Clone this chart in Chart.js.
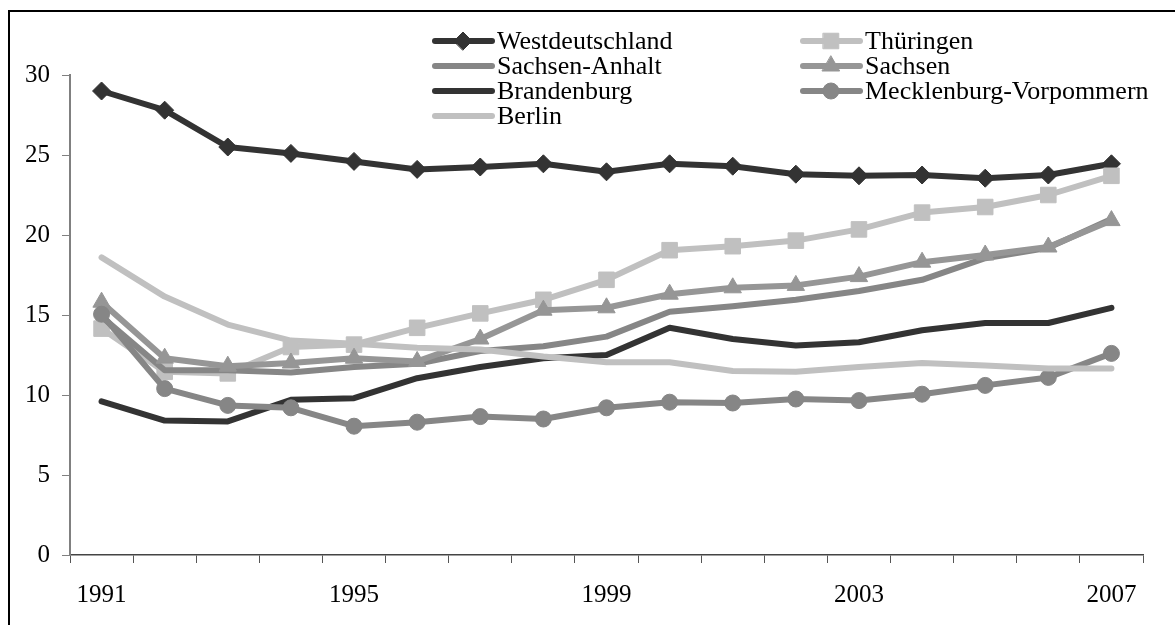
<!DOCTYPE html>
<html lang="de">
<head>
  <meta charset="UTF-8">
  <title>Entwicklung 1991-2007</title>
  <script src="https://cdn.jsdelivr.net/npm/chart.js"></script>
  <style>
    body { margin: 0; background: #fff; }
    #wrap { width: 1175px; height: 625px; position: relative; }
  </style>
</head>
<body>
  <div id="wrap">
    <canvas id="chart" width="1175" height="625"></canvas>
  </div>

  <script>
    // data
    const years = ['1991', '1992', '1993', '1994', '1995', '1996', '1997', '1998', '1999',
                   '2000', '2001', '2002', '2003', '2004', '2005', '2006', '2007'];
    const yTicks = [0, 5, 10, 15, 20, 25, 30];

    const westdeutschland = [29.0, 27.8, 25.5, 25.1, 24.6, 24.1, 24.25, 24.45, 23.95, 24.45, 24.3, 23.8, 23.7, 23.75, 23.55, 23.75, 24.45];
    const thueringen      = [14.15, 11.45, 11.35, 13.0, 13.15, 14.2, 15.1, 15.95, 17.2, 19.05, 19.3, 19.65, 20.35, 21.4, 21.75, 22.5, 23.7];
    const sachsenAnhalt   = [14.9, 11.55, 11.55, 11.4, 11.75, 11.95, 12.75, 13.05, 13.65, 15.2, 15.55, 15.95, 16.5, 17.2, 18.55, 19.2, 21.0];
    const sachsen         = [15.8, 12.3, 11.8, 12.0, 12.3, 12.1, 13.5, 15.3, 15.45, 16.3, 16.7, 16.85, 17.4, 18.3, 18.75, 19.25, 20.9];
    const brandenburg     = [9.6, 8.4, 8.35, 9.7, 9.8, 11.05, 11.75, 12.3, 12.5, 14.2, 13.5, 13.1, 13.3, 14.05, 14.5, 14.5, 15.45];
    const mecklenburgVP   = [15.05, 10.4, 9.35, 9.2, 8.05, 8.3, 8.65, 8.5, 9.2, 9.55, 9.5, 9.75, 9.65, 10.05, 10.6, 11.1, 12.6];
    const berlin          = [18.6, 16.15, 14.4, 13.4, 13.2, 12.95, 12.85, 12.4, 12.05, 12.05, 11.5, 11.45, 11.75, 12.0, 11.85, 11.65, 11.65];

    const serif = '"Liberation Serif", "Times New Roman", serif';

    function series(label, data, color, style, radius) {
      return {
        label: label,
        data: data,
        borderColor: color,
        backgroundColor: color,
        borderWidth: 6,
        borderCapStyle: 'round',
        borderJoinStyle: 'round',
        tension: 0,
        pointStyle: style || 'circle',
        pointRadius: style ? radius : 0,
        pointBorderWidth: 1,
        pointBorderColor: color,
        pointBackgroundColor: color,
        pointHoverRadius: style ? radius : 0
      };
    }

    const datasets = [
      series('Westdeutschland', westdeutschland, '#333333', 'rectRot', 9),
      series('Thüringen', thueringen, '#c0c0c0', 'rect', 11),
      series('Sachsen-Anhalt', sachsenAnhalt, '#868686', null),
      series('Sachsen', sachsen, '#969696', 'triangle', 10),
      series('Brandenburg', brandenburg, '#333333', null),
      series('Mecklenburg-Vorpommern', mecklenburgVP, '#868686', 'circle', 8),
      series('Berlin', berlin, '#c0c0c0', null)
    ];
    // later series sit on top, like the original
    datasets.forEach((d, i) => { d.order = datasets.length - i; });

    // white page + frame line on the left and top
    const framePlugin = {
      id: 'frame',
      beforeDraw(chart) {
        const ctx = chart.ctx;
        ctx.save();
        ctx.fillStyle = '#fff';
        ctx.fillRect(0, 0, chart.width, chart.height);
        ctx.strokeStyle = '#000';
        ctx.lineWidth = 2;
        ctx.beginPath();
        ctx.moveTo(9, chart.height + 2);
        ctx.lineTo(9, 11);
        ctx.lineTo(chart.width + 2, 11);
        ctx.stroke();
        ctx.restore();
      }
    };

    // two column legend, rows filled left to right
    const legendPlugin = {
      id: 'twoColLegend',
      afterDraw(chart) {
        const ctx = chart.ctx;
        const colX = [432, 800];
        const rowY = [41, 66, 91, 116];
        ctx.save();
        chart.data.datasets.forEach((ds, i) => {
          const x = colX[i % 2];
          const y = rowY[Math.floor(i / 2)];
          ctx.strokeStyle = ds.borderColor;
          ctx.lineWidth = 6;
          ctx.lineCap = 'round';
          ctx.beginPath();
          ctx.moveTo(x + 3, y);
          ctx.lineTo(x + 60, y);
          ctx.stroke();
          if (ds.pointRadius > 0) {
            ctx.fillStyle = ds.pointBackgroundColor;
            ctx.strokeStyle = ds.pointBorderColor;
            ctx.lineWidth = 1;
            Chart.helpers.drawPoint(ctx, {
              pointStyle: ds.pointStyle,
              radius: ds.pointRadius,
              borderWidth: 1,
              rotation: 0
            }, x + 31, y);
          }
          ctx.fillStyle = '#000';
          ctx.font = '26px ' + serif;
          ctx.textBaseline = 'middle';
          ctx.textAlign = 'left';
          ctx.fillText(ds.label, x + 65, y + 1);
        });
        ctx.restore();
      }
    };

    new Chart(document.getElementById('chart'), {
      type: 'line',
      data: { labels: years, datasets: datasets },
      plugins: [framePlugin, legendPlugin],
      options: {
        responsive: false,
        animation: false,
        layout: { padding: { top: 75, right: 32, bottom: 8, left: 0 } },
        plugins: {
          legend: { display: false },
          tooltip: { enabled: false }
        },
        scales: {
          x: {
            type: 'category',
            offset: true,
            grid: {
              offset: true,
              drawOnChartArea: false,
              drawTicks: true,
              tickLength: 8,
              color: '#555'
            },
            border: { color: '#444', width: 1.5 },
            ticks: {
              autoSkip: false,
              maxRotation: 0,
              padding: 17,
              color: '#000',
              font: { family: serif, size: 25 },
              callback: (v, i) => (i % 4 === 0 ? years[i] : '')
            },
            afterFit(scale) { scale.height = 62; }
          },
          y: {
            min: yTicks[0],
            max: yTicks[yTicks.length - 1],
            afterBuildTicks(scale) { scale.ticks = yTicks.map(v => ({ value: v })); },
            grid: {
              drawOnChartArea: false,
              tickLength: 8,
              color: '#808080'
            },
            border: { color: '#808080', width: 2 },
            ticks: {
              padding: 12,
              color: '#000',
              font: { family: serif, size: 25 }
            },
            afterFit(scale) { scale.width = 70; }
          }
        }
      }
    });
  </script>
</body>
</html>
